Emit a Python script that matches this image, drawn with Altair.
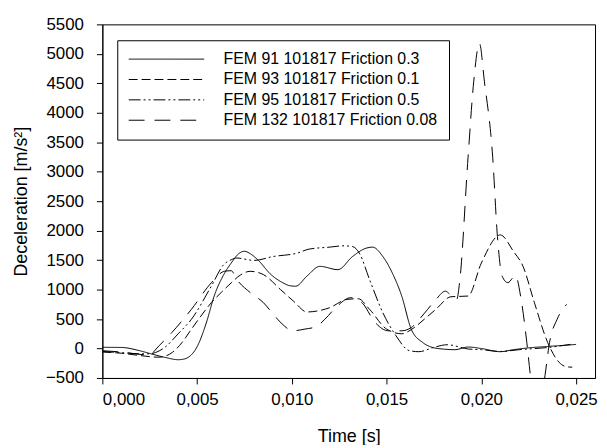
import altair as alt
import pandas as pd

series_names = [
    "FEM 91 101817 Friction 0.3",
    "FEM 93 101817 Friction 0.1",
    "FEM 95 101817 Friction 0.5",
    "FEM 132 101817 Friction 0.08",
]

# FEM 91 (solid)
t91 = [0.000, 0.001, 0.002, 0.0026, 0.0033, 0.0040, 0.0043, 0.0050, 0.0055, 0.0059, 0.0064, 0.0068,
       0.0072, 0.0075, 0.0078, 0.0082, 0.0089, 0.0095, 0.0099, 0.0102, 0.0108, 0.01148, 0.01243,
       0.0132, 0.0139, 0.01426, 0.0148, 0.0153, 0.0158, 0.0163, 0.0169, 0.0174, 0.0180, 0.0186,
       0.0193, 0.0200, 0.0210, 0.0217, 0.0224, 0.0236, 0.0248, 0.0250]
v91 = [20, 18, -40, -93, -150, -190, -180, 30, 450, 889, 1250, 1450,
       1610, 1650, 1610, 1506, 1254, 1120, 1065, 1057, 1230, 1394, 1338,
       1560, 1700, 1720, 1562, 1283, 889, 328, 104, 20, -10, -20,
       25, 0, -54, -20, 8, 37, 64, 70]

# FEM 93 (medium dash)
t93 = [0.000, 0.001, 0.002, 0.003, 0.0037, 0.0042, 0.0047, 0.0052, 0.00575, 0.0063, 0.0068, 0.0073,
       0.0078, 0.0085, 0.0094, 0.0101, 0.0108, 0.0114, 0.0120, 0.0129, 0.0135, 0.0141, 0.0150,
       0.0158, 0.0163, 0.0170, 0.0176, 0.0184, 0.0193, 0.0200, 0.0210, 0.0217, 0.0222, 0.0228,
       0.0235, 0.0241, 0.0245, 0.0248]
v93 = [-60, -80, -120, -148, -64, 100, 328, 550, 778, 960, 1114, 1250,
       1310, 1254, 1001, 800, 620, 640, 693, 833, 845, 665, 330,
       250, 320, 500, 665, 878, 890, 1450, 1927, 1646, 1394, 778,
       104, -232, -310, -317]

# FEM 95 (dash-dot-dot)
t95 = [0.000, 0.001, 0.002, 0.0025, 0.0030, 0.0033, 0.0040, 0.0047, 0.00575, 0.0064, 0.0068, 0.0071,
       0.0080, 0.0090, 0.0103, 0.0109, 0.0120, 0.0127, 0.0132, 0.01356, 0.0141, 0.0148, 0.0155,
       0.0162, 0.0167, 0.0175, 0.0182, 0.0193, 0.0200, 0.0210, 0.0220, 0.0236, 0.0247]
v95 = [-50, -70, -90, -90, -40, 20, 250, 496, 1057, 1422, 1506, 1535,
       1495, 1560, 1620, 1686, 1720, 1742, 1730, 1619, 1170, 609, 215,
       -37, -54, 20, 64, -8, -20, -50, -20, 20, 70]

# FEM 132 (long dash)
t132 = [0.000, 0.001, 0.00245, 0.0030, 0.00367, 0.0047, 0.00575, 0.00644, 0.0068, 0.0071, 0.0078,
        0.0085, 0.0091, 0.0096, 0.0100, 0.0107, 0.0113, 0.01174, 0.0124, 0.0131, 0.0137, 0.0144,
        0.0151, 0.0158, 0.0163, 0.0170, 0.0176, 0.0181, 0.0184, 0.0187, 0.01885, 0.0193, 0.0196,
        0.0199, 0.02016, 0.0206, 0.02085, 0.0211, 0.0214, 0.0218, 0.0221, 0.0224, 0.0226, 0.0230,
        0.02336, 0.0236, 0.0240, 0.0245]
v132 = [-37, -60, -110, 50, 272, 665, 1114, 1310, 1320, 1170, 950,
        778, 550, 384, 300, 330, 373, 496, 720, 862, 778, 440,
        300, 300, 356, 600, 830, 973, 900, 833, 1114, 3245, 4536,
        5180, 4536, 3245, 1898, 1225, 1118, 1237, 833, 104, -485, -1200,
        -458, 104, 496, 749]

x_ticks = [0.000, 0.005, 0.010, 0.015, 0.020, 0.025]
y_ticks = [-500, 0, 500, 1000, 1500, 2000, 2500, 3000, 3500, 4000, 4500, 5000, 5500]

rows = []
for name, ts, vs in zip(series_names, [t91, t93, t95, t132], [v91, v93, v95, v132]):
    for t, v in zip(ts, vs):
        rows.append({"series": name, "t": t, "v": v})
df = pd.DataFrame(rows)

FONT = "Liberation Sans"

chart = alt.Chart(df).mark_line(
    interpolate="monotone", clip=True, color="black", strokeWidth=1
).encode(
    x=alt.X("t:Q",
            scale=alt.Scale(domain=[0, 0.026], nice=False, zero=False),
            axis=alt.Axis(values=x_ticks, title="Time [s]",
                          labelExpr="replace(format(datum.value, '.3f'), '.', ',')",
                          grid=False, tickSize=6, labelPadding=8, titlePadding=20)),
    y=alt.Y("v:Q",
            scale=alt.Scale(domain=[-500, 5500], nice=False, zero=False),
            axis=alt.Axis(values=y_ticks, title="Deceleration [m/s²]", grid=False,
                          format="d", tickSize=6, labelPadding=13, titlePadding=15)),
    strokeDash=alt.StrokeDash(
        "series:N",
        scale=alt.Scale(domain=series_names,
                        range=[[1, 0], [9, 4], [12, 3, 2, 3, 2, 3], [16, 10]]),
        legend=alt.Legend(title=None, orient="none", legendX=15, legendY=16,
                          symbolType="stroke", symbolSize=5776, symbolStrokeWidth=1,
                          symbolStrokeColor="black", clipHeight=16, rowPadding=4.5,
                          labelFontSize=16, labelFont=FONT, labelColor="black",
                          labelOffset=19, labelLimit=400, padding=11,
                          strokeColor="black", fillColor="white"),
    ),
    order=alt.Order("t:Q"),
).properties(
    width=496, height=356,
    background="white",
    autosize=alt.AutoSizeParams(type="none"),
    padding={"left": 95, "top": 15, "right": 4, "bottom": 66},
).configure_view(
    stroke="black", strokeWidth=1
).configure_axis(
    domainColor="black", tickColor="black", labelColor="black", titleColor="black",
    labelFont=FONT, titleFont=FONT, labelFontSize=17, titleFontSize=18,
    titleFontWeight="normal", domainWidth=1, tickWidth=1
)

chart.save("out.html", embed_options={"renderer": "svg", "actions": False})
